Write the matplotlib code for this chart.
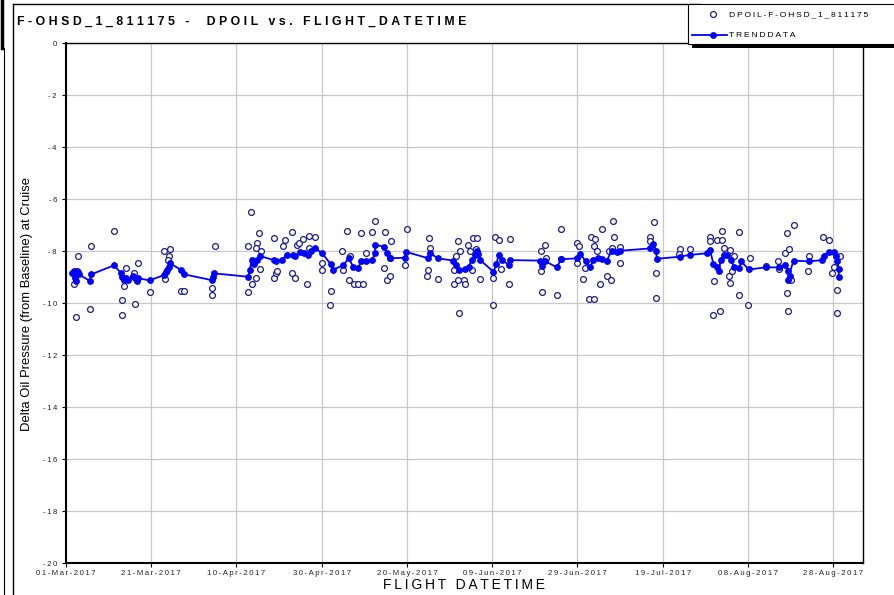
import matplotlib
matplotlib.use("Agg")
import matplotlib.pyplot as plt
from matplotlib.patches import Rectangle
from matplotlib.lines import Line2D
import pandas as pd

plt.rcParams['font.family'] = ['Liberation Sans', 'DejaVu Sans']

START = pd.Timestamp('2017-03-01')
END = pd.Timestamp('2017-09-04')

# raw DPOIL readings: day offset from 01-Mar-2017, value
raw_days = [1.9, 2.3, 2.9, 2.6, 5.6, 5.9, 11.3, 13.1, 13.1, 14.0, 13.7, 16.3, 16.8, 16.0,
            19.6, 23.0, 24.3, 24.2, 23.9, 23.3, 27.0, 27.8, 34.9, 34.2, 34.3, 43.3, 42.8,
            42.8, 43.7, 44.6, 45.4, 44.9, 44.6, 45.6, 45.7, 48.9, 48.7, 49.3, 49.5, 51.0,
            51.5, 53.0, 53.0, 53.7, 54.1, 54.6, 55.5, 56.6, 57.1, 58.5, 56.9, 60.0, 60.0,
            62.2, 62.0, 64.7, 66.0, 66.3, 64.9, 67.6, 68.6, 69.6, 69.2, 66.6, 70.4,
            71.9, 72.5, 74.9, 76.2, 76.0, 74.6, 75.3, 76.1, 79.9, 79.6, 85.2, 85.4, 85.0,
            84.8, 87.2, 91.9, 91.4, 91.0, 91.0, 91.9, 92.3, 93.4, 93.7, 94.3, 92.5, 95.4,
            96.4, 96.1, 94.9, 95.3, 97.2, 100.7, 101.5, 100.3, 100.2, 102.1, 104.2, 104.0,
            111.4, 112.3, 112.6, 111.4, 111.7, 115.3, 116.1, 116.2, 120.0, 120.3, 119.9,
            121.4, 123.1, 124.2, 124.0, 124.5, 121.7, 122.8, 123.8, 125.7, 125.4, 127.0,
            127.9, 127.4, 128.3, 128.6, 128.1, 130.0, 130.0,
            137.0, 137.1, 138.0, 138.5, 138.5, 144.1, 143.9, 146.4, 151.1, 151.1, 152.8,
            153.9, 154.0, 152.0, 151.8, 153.4, 154.5, 155.7, 155.5, 155.9, 156.3, 156.7,
            158.0, 157.8, 160.1, 160.4, 164.2, 167.0, 167.2, 168.6, 169.2, 169.7, 170.7,
            169.2, 169.4, 170.2, 174.3, 174.1, 177.5, 179.0, 179.8, 180.1, 181.0, 180.8, 181.5]
raw_vals = [-9.27, -10.54, -8.18, -8.76, -10.23, -7.81, -7.24, -9.87, -10.46, -8.64, -9.33,
            -10.03, -8.47, -8.86, -9.58, -7.99, -7.94, -8.2, -8.35, -9.09, -9.55, -9.55,
            -7.82, -9.43, -9.69, -6.5, -7.82, -9.58, -9.26, -9.05, -7.32, -7.68, -7.9,
            -8.7, -8.0, -7.49, -9.05, -8.86, -8.75, -7.8, -7.56, -7.28, -8.85, -9.03,
            -7.75, -7.7, -7.54, -9.26, -7.41, -7.46, -7.9, -8.47, -8.73, -9.55, -10.08,
            -8.01, -7.22, -9.1, -8.73, -9.26, -9.26, -9.26, -7.29, -8.18, -8.07,
            -7.28, -6.83, -7.28, -7.63, -8.26, -8.67, -9.1, -8.97, -7.17, -8.54, -7.49,
            -7.88, -8.72, -8.97, -9.08, -7.63, -8.2, -8.72, -9.26, -9.13, -10.4, -9.13,
            -9.26, -7.77, -7.99, -7.49, -7.49, -7.94, -7.99, -8.72, -9.08, -7.47, -7.58,
            -9.04, -10.08, -8.7, -7.55, -9.28, -8.0, -7.77, -8.27, -8.78, -9.58, -9.69,
            -7.17, -8.3, -7.68, -7.8, -8.47, -9.06, -7.47, -7.55, -7.8, -8.0, -8.64,
            -9.85, -9.85, -7.17, -9.26, -8.97, -9.1, -8.0, -6.86, -7.47, -7.9, -7.84, -8.47,
            -7.47, -7.6, -6.88, -8.86, -9.82, -7.94, -8.1, -7.94, -7.47, -7.63, -7.56,
            -7.56, -7.22, -9.17, -10.47, -10.3, -7.9, -7.95, -8.97, -9.24, -8.75, -8.2,
            -7.27, -9.69, -10.08, -8.28, -8.58, -8.37, -8.7, -8.07, -7.32, -7.94, -7.0,
            -9.63, -10.31, -9.12, -8.19, -8.78, -7.46, -7.58, -8.83, -8.6, -9.5, -10.4, -8.2]

# trend data
trend_days = [1.5, 1.8, 2.0, 2.2, 2.4, 2.7, 3.0, 5.6, 5.9, 11.3, 12.9, 13.1, 13.5, 14.0, 14.5,
              15.8, 16.2, 16.6, 17.0, 19.6, 23.1, 23.5, 23.8, 24.1, 24.4, 27.0, 27.8, 34.2,
              34.4, 34.7, 42.8, 43.1, 43.6, 43.9, 44.2, 44.8, 45.5, 48.7, 49.2, 50.6, 51.8,
              53.2, 53.8, 54.9, 55.8, 56.8, 57.5, 58.5, 60.0, 62.1, 62.6, 65.1, 66.3, 67.4,
              68.6, 69.2, 70.4, 71.8, 72.5, 72.6, 74.6, 75.3, 76.0, 79.6, 79.7, 85.0, 85.4,
              87.2, 90.9, 91.5, 92.3, 93.7, 94.5, 95.2, 96.0, 96.5, 96.7, 97.2, 100.3, 101.0,
              101.5, 102.3, 104.0, 104.2, 111.3, 111.7, 112.5, 115.2, 116.1, 119.9, 120.7,
              121.9, 123.0, 123.7, 124.9, 125.7, 126.9, 128.0, 129.2, 130.0, 137.1, 137.8,
              138.5, 138.6, 144.0, 146.3, 150.4, 151.1, 151.9, 152.8, 153.2, 153.6, 154.4,
              155.2, 156.0, 156.8, 158.0, 158.4, 160.2, 164.2, 167.2, 168.7, 169.5, 169.9,
              169.3, 170.7, 174.3, 177.4, 177.8, 179.0, 180.2, 180.6, 181.0, 181.3, 181.3]
trend_vals = [-8.85, -8.78, -9.05, -8.95, -9.15, -8.8, -8.9, -9.15, -8.9, -8.55, -8.85, -8.99,
              -9.1, -9.05, -9.12, -8.95, -9.03, -9.15, -9.05, -9.13, -8.92, -8.8, -8.73, -8.6,
              -8.47, -8.73, -8.9, -9.12, -9.0, -8.86, -8.99, -8.73, -8.35, -8.45, -8.5, -8.35,
              -8.19, -8.35, -8.4, -8.35, -8.15, -8.15, -8.2, -8.03, -8.08, -8.15, -8.0, -7.9,
              -8.07, -8.5, -8.73, -8.54, -8.28, -8.6, -8.67, -8.4, -8.37, -8.35, -8.09, -7.77,
              -7.83, -8.08, -8.28, -8.26, -8.03, -8.28, -8.07, -8.28, -8.37, -8.54, -8.73,
              -8.7, -8.6, -8.35, -8.17, -8.0, -8.12, -8.35, -8.8, -8.5, -8.15, -8.35, -8.54,
              -8.35, -8.37, -8.56, -8.4, -8.63, -8.32, -8.28, -8.1, -8.4, -8.63, -8.35, -8.28,
              -8.3, -8.37, -7.99, -8.02, -7.99, -7.9, -7.73, -7.99, -8.3, -8.22, -8.15, -8.09,
              -7.95, -8.5, -8.6, -8.75, -8.35, -8.15, -8.15, -8.35, -8.6, -8.65, -8.4, -8.71,
              -8.63, -8.63, -8.55, -8.75, -8.95, -9.1, -8.37, -8.4, -8.35, -8.2, -8.02, -8.05,
              -8.2, -8.4, -8.7, -8.99]

title = 'F-OHSD_1_811175 -  DPOIL vs. FLIGHT_DATETIME'
series_name = 'DPOIL-F-OHSD_1_811175'
trend_name = 'TRENDDATA'
y_ticks = list(range(-20, 1, 2))


def spaced(s, gap='\u2009'):
    # the original renders text with wide letter spacing
    return gap.join(s)


W, H = 894, 595


def fx(x):
    return x / W


def fy(y):
    return 1 - y / H


raw_dates = START + pd.to_timedelta(raw_days, unit='D')
trend_dates = START + pd.to_timedelta(trend_days, unit='D')

fig = plt.figure(figsize=(W / 100, H / 100), dpi=100)
ax = fig.add_axes([fx(66), fy(563), fx(863) - fx(66), fy(43) - fy(563)])

ax.plot(raw_dates, raw_vals, linestyle='none', marker='o', markersize=4.2,
        markerfacecolor='white', markeredgecolor='#1c1c8e', markeredgewidth=0.9, zorder=3)
ax.plot(trend_dates, trend_vals, color='#0000ff', linewidth=1.3, marker='o',
        markersize=3.9, markerfacecolor='#0000ff', markeredgecolor='#0000ff', zorder=4)

ax.set_xlim(START, END)
ax.set_ylim(-20, 0)
xt = pd.date_range(START, periods=10, freq='20D')
ax.set_xticks(xt)
ax.set_xticklabels([spaced(d.strftime('%d-%b-%Y')) for d in xt], fontsize=5.6, color='#222222')
ax.set_yticks(y_ticks)
ax.set_yticklabels([spaced(str(v)) for v in y_ticks], fontsize=5.6, color='#222222')
ax.tick_params(axis='x', length=3, width=0.8, pad=2)
ax.tick_params(axis='y', length=3, width=0.8, pad=3.5)
ax.grid(True, color='#c8c8c8', linewidth=0.9)
ax.set_axisbelow(True)
for side in ['left', 'bottom']:
    ax.spines[side].set_linewidth(1.5)
for side in ['top', 'right']:
    ax.spines[side].set_linewidth(1.0)

fig.text(fx(27), fy(304), 'Delta Oil Pressure (from Baseline) at Cruise', fontsize=9.4,
         rotation=90, ha='center', va='center')
fig.text(fx(464), fy(585), spaced('FLIGHT DATETIME'), fontsize=10, ha='center', va='center')

# title
fig.text(fx(17), fy(22), spaced(title, '\u2009\u200a'), fontsize=8.8, fontweight='bold',
         ha='left', va='center')

# frame lines of the original report page
fig.add_artist(Line2D([fx(13), fx(13)], [fy(4), 0], color='black', linewidth=1.0))
fig.add_artist(Line2D([fx(13), fx(700)], [fy(4), fy(4)], color='black', linewidth=1.0))
fig.add_artist(Line2D([fx(2), fx(2)], [1, fy(48)], color='black', linewidth=2.5))
fig.add_artist(Line2D([fx(3.5), fx(3.5)], [fy(48), 0], color='black', linewidth=0.8))

# legend box with shadow
fig.add_artist(Rectangle((fx(692), fy(48)), fx(220), fy(8) - fy(48), transform=fig.transFigure,
                         facecolor='black', edgecolor='none', zorder=10))
fig.add_artist(Rectangle((fx(688), fy(44)), fx(220), fy(4) - fy(44), transform=fig.transFigure,
                         facecolor='white', edgecolor='black', linewidth=0.8, zorder=11))
fig.add_artist(Line2D([fx(713)], [fy(14)], linestyle='none', marker='o', markersize=4.2,
                      markerfacecolor='white', markeredgecolor='#1c1c8e',
                      markeredgewidth=0.9, zorder=12))
fig.text(fx(729), fy(14.5), spaced(series_name), fontsize=6.1, ha='left', va='center', zorder=12)
fig.add_artist(Line2D([fx(692), fx(727)], [fy(35), fy(35)], color='#0000ff', linewidth=1.3,
                      zorder=12))
fig.add_artist(Line2D([fx(713)], [fy(35)], linestyle='none', marker='o', markersize=3.9,
                      color='#0000ff', zorder=12))
fig.text(fx(729), fy(35.5), spaced(trend_name), fontsize=6.1, ha='left', va='center', zorder=12)

fig.savefig('out.png', dpi=100)
